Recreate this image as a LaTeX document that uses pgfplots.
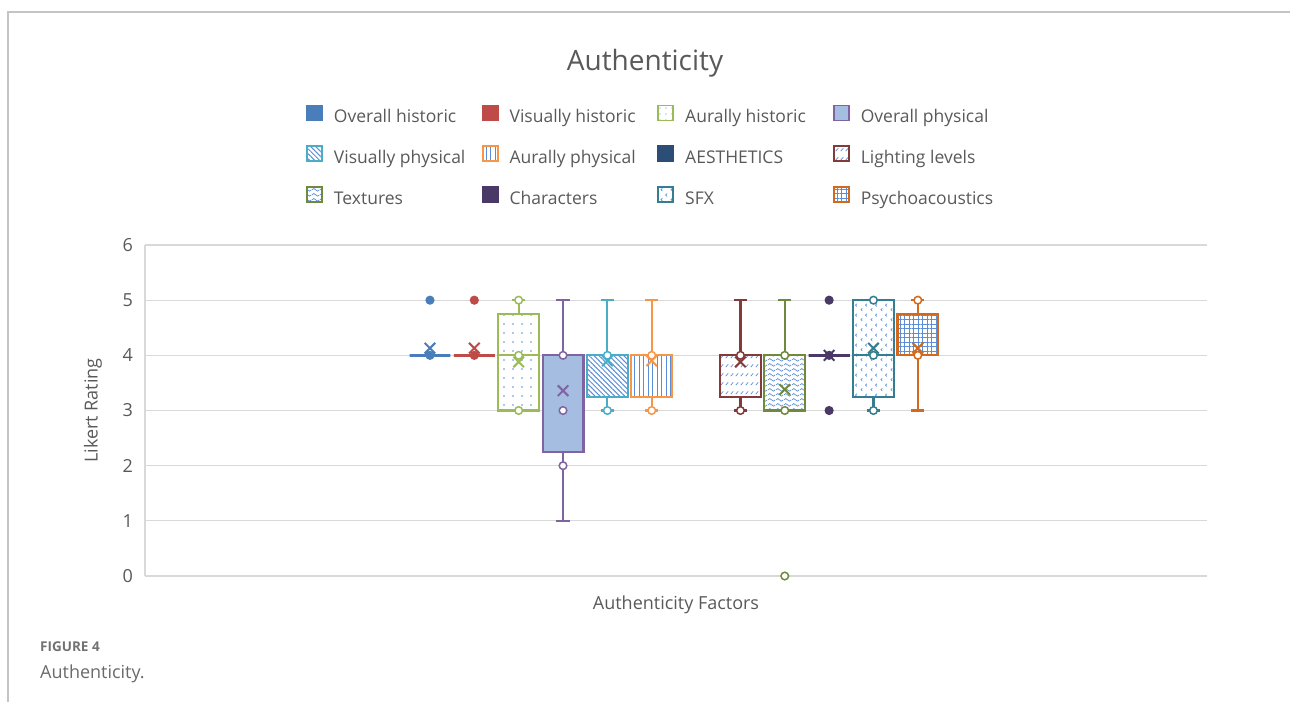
\documentclass[border=0pt]{standalone}
\usepackage{fontspec}
\setmainfont{Open Sans}
\usepackage{pgfplots}
\pgfplotsset{compat=1.18}
\usepgfplotslibrary{statistics}
\usetikzlibrary{patterns,patterns.meta}

\definecolor{txt}{HTML}{595959}
\definecolor{gridc}{HTML}{D9D9D9}
\definecolor{framec}{HTML}{C4C4C4}
\definecolor{patc}{HTML}{5B8ED6}
\definecolor{c1}{HTML}{4A7EBB}
\definecolor{c2}{HTML}{BE4B48}
\definecolor{c3}{HTML}{9BBB59}
\definecolor{c4}{HTML}{8064A2}
\definecolor{c4f}{HTML}{A6BDE2}
\definecolor{c5}{HTML}{4BACC6}
\definecolor{c6}{HTML}{F79646}
\definecolor{c7}{HTML}{2C4D75}
\definecolor{c8}{HTML}{843A38}
\definecolor{c9}{HTML}{6F893D}
\definecolor{c10}{HTML}{4A3966}
\definecolor{c11}{HTML}{357D91}
\definecolor{c12}{HTML}{D2691C}

\tikzdeclarepattern{
  name=wavy, type=uncolored,
  bounding box={(0pt,0pt) and (8pt,5pt)},
  tile size={(8pt,5pt)},
  code={\draw[line width=0.8pt] (0pt,2.5pt) sin (2pt,4pt) cos (4pt,2.5pt) sin (6pt,1pt) cos (8pt,2.5pt);}
}
\tikzdeclarepattern{
  name=slashrows, type=uncolored,
  bounding box={(0pt,0pt) and (5pt,9pt)},
  tile size={(5pt,9pt)},
  code={\draw[line width=0.8pt] (0.8pt,2pt) -- (3.8pt,5pt);}
}
\tikzdeclarepattern{
  name=sfxpat, type=uncolored,
  bounding box={(0pt,0pt) and (10pt,10pt)},
  tile size={(10pt,10pt)},
  code={\draw[line width=0.7pt] (2.5pt,1pt) -- (1pt,2.5pt) -- (2.5pt,4pt);
        \draw[line width=0.7pt] (7.5pt,6pt) -- (6pt,7.5pt) -- (7.5pt,9pt);}
}

\pgfplotsset{
  hpt/.style={forget plot, only marks, mark=*, mark size=3.8pt, mark options={draw=#1, fill=white, line width=1.5pt}},
  fpt/.style={forget plot, only marks, mark=*, mark size=3.8pt, mark options={draw=#1, fill=#1, line width=1.5pt}},
  mpt/.style={forget plot, only marks, mark=x, mark size=7.5pt, mark options={draw=#1, line width=2pt}},
}

\begin{document}
\begin{tikzpicture}
\path[use as bounding box] (0pt,0pt) rectangle (1290pt,-702pt);
\draw[framec, line width=1.2pt] (8pt,-702pt) -- (8pt,-12pt) -- (1290pt,-12pt);
\node[anchor=base west, inner sep=0pt, text=txt!85, font=\fontsize{13.5}{15}\selectfont\bfseries] at (40pt,-651pt) {FIGURE 4};
\node[anchor=base west, inner sep=0pt, text=txt!90, font=\fontsize{18}{20}\selectfont] at (40pt,-678pt) {Authenticity.};
\begin{axis}[
  at={(145pt,-576pt)}, anchor=south west,
  scale only axis, width=1062pt, height=331pt,
  xmin=-5.425, xmax=18.52, ymin=0, ymax=6,
  ytick={0,1,2,3,4,5,6}, xtick=\empty,
  ymajorgrids, grid style={draw=gridc, line width=1.2pt},
  axis lines*=left, axis line style={draw=gridc, line width=1.2pt},
  major tick length=0pt,
  clip=false,
  tick label style={font=\fontsize{18}{20}\selectfont, text=txt},
  yticklabel style={inner sep=0pt, xshift=-12pt},
  /pgf/number format/assume math mode=true,
  title={Authenticity},
  title style={at={(axis description cs:0.4708,1.532)}, anchor=center, font=\fontsize{28}{30}\selectfont, text=txt},
  xlabel={Authenticity Factors},
  ylabel={Likert Rating},
  every axis x label/.style={at={(axis description cs:0.5,-0.0876)}, anchor=center, font=\fontsize{18}{20}\selectfont, text=txt},
  every axis y label/.style={at={(axis description cs:-0.049,0.5)}, anchor=center, rotate=90, font=\fontsize{18}{20}\selectfont, text=txt},
  boxplot/draw direction=y,
  boxplot/box extend=0.92, boxplot/whisker extend=0.3,
  legend columns=4,
  legend cell align=left,
  legend style={at={(axis description cs:0.1516,1.425)}, anchor=north west, draw=none, fill=none, inner sep=0pt,
    column sep=11pt, row sep=18.5pt, font=\fontsize{17.5}{20}\selectfont, text=txt,
    nodes={inner sep=0pt, text height=13pt, text depth=4pt}},
  legend image code/.code={\draw[#1, line width=1.8pt] (0pt,-2pt) rectangle (15pt,13pt);},
]
% legend
\addlegendimage{draw=c1, fill=c1}
\addlegendentry{\makebox[136.8pt][l]{Overall historic}}
\addlegendimage{draw=c2, fill=c2}
\addlegendentry{\makebox[136.8pt][l]{Visually historic}}
\addlegendimage{draw=c3, pattern={Dots[distance=6pt,radius=0.7pt]}, pattern color=patc}
\addlegendentry{\makebox[136.8pt][l]{Aurally historic}}
\addlegendimage{draw=c4, fill=c4f}
\addlegendentry{\makebox[136.8pt][l]{Overall physical}}
\addlegendimage{draw=c5, pattern={Lines[angle=-45,distance=3.5pt,line width=1pt]}, pattern color=patc}
\addlegendentry{\makebox[136.8pt][l]{Visually physical}}
\addlegendimage{draw=c6, pattern={Lines[angle=90,distance=4.5pt,line width=1pt]}, pattern color=patc}
\addlegendentry{\makebox[136.8pt][l]{Aurally physical}}
\addlegendimage{draw=c7, fill=c7}
\addlegendentry{\makebox[136.8pt][l]{AESTHETICS}}
\addlegendimage{draw=c8, pattern=slashrows, pattern color=patc}
\addlegendentry{\makebox[136.8pt][l]{Lighting levels}}
\addlegendimage{draw=c9, pattern=wavy, pattern color=patc}
\addlegendentry{\makebox[136.8pt][l]{Textures}}
\addlegendimage{draw=c10, fill=c10}
\addlegendentry{\makebox[136.8pt][l]{Characters}}
\addlegendimage{draw=c11, pattern=sfxpat, pattern color=patc}
\addlegendentry{\makebox[136.8pt][l]{SFX}}
\addlegendimage{draw=c12, pattern={Hatch[distance=4.5pt,line width=0.8pt]}, pattern color=patc}
\addlegendentry{\makebox[136.8pt][l]{Psychoacoustics}}

% 1 Overall historic
\addplot[forget plot, draw=c1, line width=2.8pt, boxplot prepared={draw position=1, lower whisker=4, lower quartile=4, median=4, upper quartile=4, upper whisker=4}] coordinates {};
\addplot[fpt=c1] coordinates {(1,4) (1,5)};
\addplot[mpt=c1] coordinates {(1,4.13)};
% 2 Visually historic
\addplot[forget plot, draw=c2, line width=2.8pt, boxplot prepared={draw position=2, lower whisker=4, lower quartile=4, median=4, upper quartile=4, upper whisker=4}] coordinates {};
\addplot[fpt=c2] coordinates {(2,4) (2,5)};
\addplot[mpt=c2] coordinates {(2,4.13)};
% 3 Aurally historic
\addplot[forget plot, draw=c3, line width=2.2pt, pattern={Dots[distance=9pt,radius=0.8pt]}, pattern color=patc, boxplot prepared={draw position=3, lower whisker=3, lower quartile=3, median=4, upper quartile=4.75, upper whisker=5}] coordinates {};
\addplot[hpt=c3] coordinates {(3,3) (3,4) (3,5)};
\addplot[mpt=c3] coordinates {(3,3.88)};
% 4 Overall physical
\addplot[forget plot, draw=c4, line width=2.2pt, fill=c4f, boxplot prepared={draw position=4, lower whisker=1, lower quartile=2.25, median=4, upper quartile=4, upper whisker=5}] coordinates {};
\addplot[hpt=c4] coordinates {(4,2) (4,3) (4,4)};
\addplot[mpt=c4] coordinates {(4,3.36)};
% 5 Visually physical
\addplot[forget plot, draw=c5, line width=2.2pt, pattern={Lines[angle=-45,distance=3.5pt,line width=1pt]}, pattern color=patc, boxplot prepared={draw position=5, lower whisker=3, lower quartile=3.25, median=4, upper quartile=4, upper whisker=5}] coordinates {};
\addplot[hpt=c5] coordinates {(5,3) (5,4)};
\addplot[mpt=c5] coordinates {(5,3.9)};
% 6 Aurally physical
\addplot[forget plot, draw=c6, line width=2.2pt, pattern={Lines[angle=90,distance=4.5pt,line width=1pt]}, pattern color=patc, boxplot prepared={draw position=6, lower whisker=3, lower quartile=3.25, median=4, upper quartile=4, upper whisker=5}] coordinates {};
\addplot[hpt=c6] coordinates {(6,3) (6,4)};
\addplot[mpt=c6] coordinates {(6,3.9)};
% 7 AESTHETICS: no data
% 8 Lighting levels
\addplot[forget plot, draw=c8, line width=2.2pt, pattern=slashrows, pattern color=patc, boxplot prepared={draw position=8, lower whisker=3, lower quartile=3.25, median=4, upper quartile=4, upper whisker=5}] coordinates {};
\addplot[hpt=c8] coordinates {(8,3) (8,4)};
\addplot[mpt=c8] coordinates {(8,3.88)};
% 9 Textures
\addplot[forget plot, draw=c9, line width=2.2pt, pattern=wavy, pattern color=patc, boxplot prepared={draw position=9, lower whisker=3, lower quartile=3, median=3, upper quartile=4, upper whisker=5}] coordinates {};
\addplot[hpt=c9] coordinates {(9,0) (9,3) (9,4)};
\addplot[mpt=c9] coordinates {(9,3.38)};
% 10 Characters
\addplot[forget plot, draw=c10, line width=2.8pt, boxplot prepared={draw position=10, lower whisker=4, lower quartile=4, median=4, upper quartile=4, upper whisker=4}] coordinates {};
\addplot[fpt=c10] coordinates {(10,3) (10,4) (10,5)};
\addplot[mpt=c10] coordinates {(10,4.0)};
% 11 SFX
\addplot[forget plot, draw=c11, line width=2.2pt, pattern=sfxpat, pattern color=patc, boxplot prepared={draw position=11, lower whisker=3, lower quartile=3.25, median=4, upper quartile=5, upper whisker=5}] coordinates {};
\addplot[hpt=c11] coordinates {(11,3) (11,4) (11,5)};
\addplot[mpt=c11] coordinates {(11,4.13)};
% 12 Psychoacoustics
\addplot[forget plot, draw=c12, line width=2.2pt, pattern={Hatch[distance=4.5pt,line width=0.8pt]}, pattern color=patc, boxplot prepared={draw position=12, lower whisker=3, lower quartile=4, median=4, upper quartile=4.75, upper whisker=5}] coordinates {};
\addplot[hpt=c12] coordinates {(12,4) (12,5)};
\addplot[mpt=c12] coordinates {(12,4.13)};
\end{axis}
\end{tikzpicture}
\end{document}
